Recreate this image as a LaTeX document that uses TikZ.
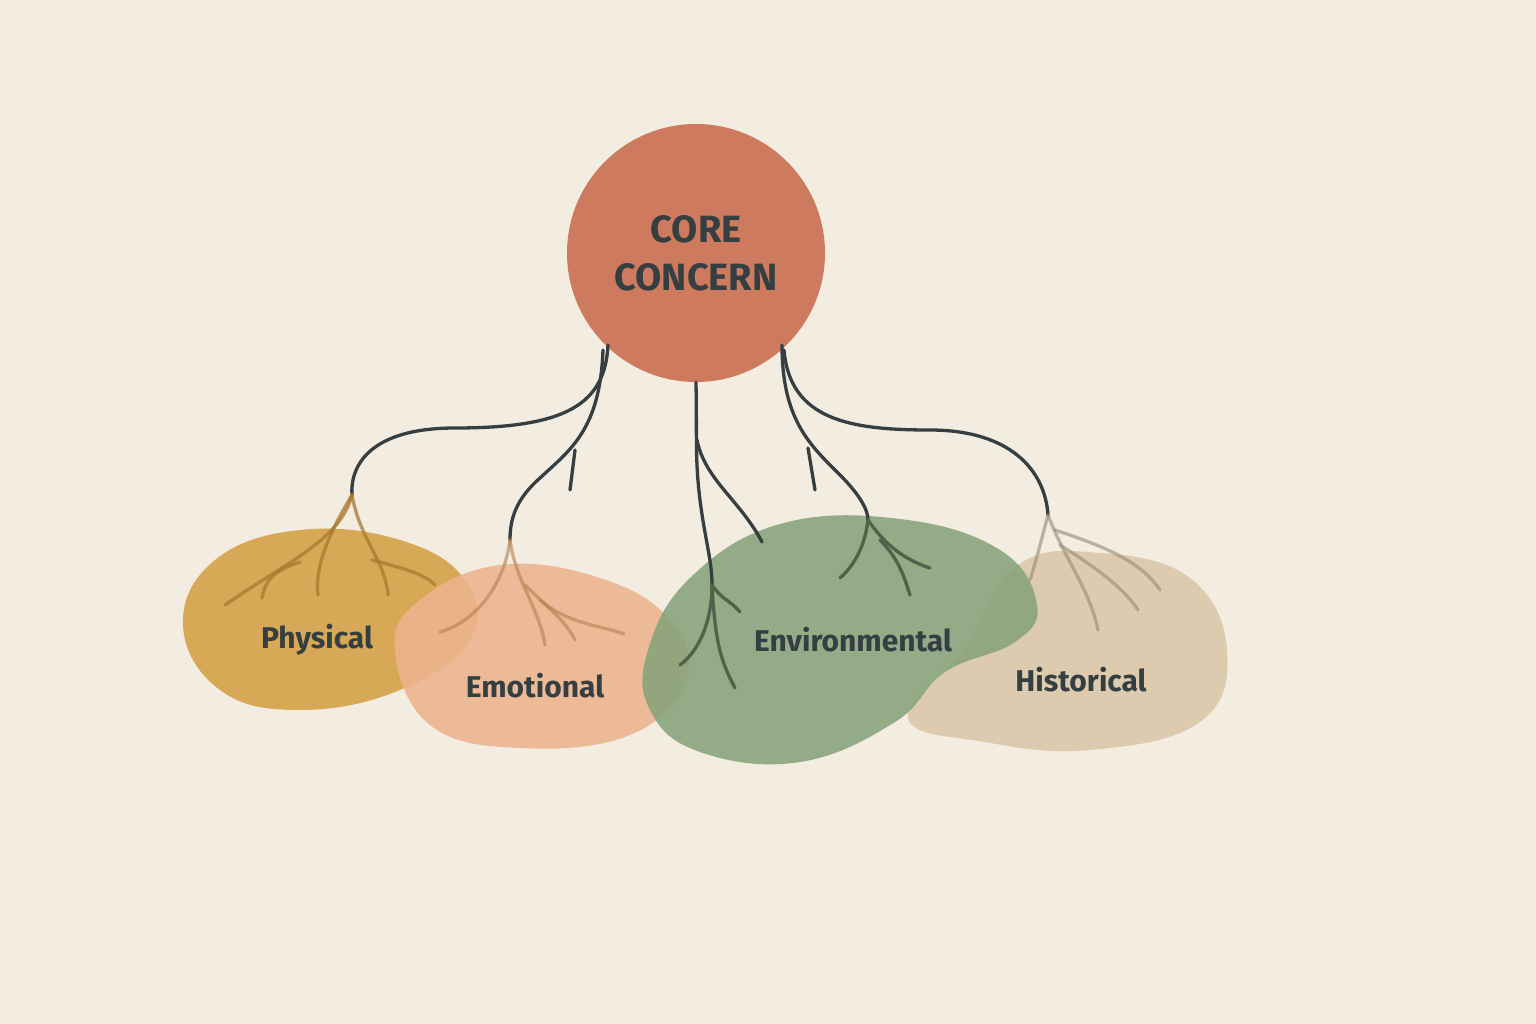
\documentclass[tikz,border=0pt]{standalone}
\usepackage{fontspec}
\setmainfont{Fira Sans}
\definecolor{bg}{HTML}{F3ECE0}
\definecolor{core}{HTML}{CD7A5E}
\definecolor{ink}{HTML}{353E40}
\definecolor{phys}{HTML}{D4A043}
\definecolor{emo}{HTML}{EDB48E}
\definecolor{env}{HTML}{86A37A}
\definecolor{hist}{HTML}{D9C7A8}
\tikzset{
  conn/.style={draw=ink,line width=3.3pt,line cap=round},
  blob/.style={fill opacity=0.88,draw=none},
  lbl/.style={text=ink,font=\fontsize{30}{34}\selectfont\bfseries},
  root/.style={line width=3.3pt,line cap=round}
}
\begin{document}
\begin{tikzpicture}[x=1pt,y=-1pt]
\fill[bg] (0,0) rectangle (1536,1024);
\useasboundingbox (0,0) rectangle (1536,1024);
% blobs
\fill[blob,hist] plot[smooth cycle,tension=0.7] coordinates{(908,718) (965,648) (1018,565) (1100,553) (1190,578) (1227,650) (1200,722) (1090,750) (985,742)};
\fill[blob,phys] plot[smooth cycle,tension=0.7] coordinates{(183,625) (215,560) (300,530) (400,540) (465,580) (470,640) (400,690) (300,710) (220,690)};
\fill[blob,emo] plot[smooth cycle,tension=0.7] coordinates{(395,650) (420,600) (500,565) (600,578) (670,620) (686,680) (630,735) (520,748) (430,725)};
\fill[blob,env] plot[smooth cycle,tension=0.7] coordinates{(648,650) (690,578) (780,524) (900,519) (1000,550) (1037,605) (1015,642) (945,672) (895,722) (800,762) (700,752) (650,710)};
% core
\node[circle,fill=core,minimum size=258pt,inner sep=0pt,align=center,text=ink,font=\fontsize{38}{48}\selectfont\bfseries] (core) at (696,253) {CORE\\CONCERN};
% connectors
\coordinate (p) at (352,495);
\coordinate (e) at (510,540);
\coordinate (c) at (712,585);
\coordinate (n) at (868,520);
\coordinate (h) at (1048,515);
\draw[conn] (608,345) .. controls (605,405) and (565,428) .. (455,428) .. controls (365,428) and (350,470) .. (p);
\draw[conn] (603,350) .. controls (600,430) and (570,450) .. (540,478) .. controls (515,500) and (510,520) .. (e);
\draw[conn] (575,450) -- (570,490);
\draw[conn] (core.south) .. controls (697,440) and (695,460) .. (700,500) .. controls (705,540) and (712,560) .. (c);
\draw[conn] (697,440) .. controls (705,480) and (740,500) .. (762,542);
\draw[conn] (782,345) .. controls (782,420) and (810,445) .. (840,475) .. controls (860,495) and (868,510) .. (n);
\draw[conn] (808,448) -- (815,490);
\draw[conn] (784,350) .. controls (790,420) and (850,430) .. (930,430) .. controls (1010,430) and (1045,470) .. (h);
% roots
\begin{scope}[root,draw=phys!75!black!90!orange,opacity=0.75]
\draw (p) .. controls (340,540) and (290,560) .. (225,605);
\draw (300,562) .. controls (275,570) and (265,580) .. (262,598);
\draw (p) .. controls (325,540) and (315,570) .. (318,595);
\draw (p) .. controls (360,540) and (385,560) .. (388,595);
\draw (372,560) .. controls (410,570) and (425,575) .. (435,585);
\end{scope}
\begin{scope}[root,draw=emo!70!black!80!orange,opacity=0.6]
\draw (e) .. controls (505,580) and (480,620) .. (440,632);
\draw (e) .. controls (515,580) and (540,610) .. (545,645);
\draw (525,585) .. controls (550,610) and (565,620) .. (575,640);
\draw (540,600) .. controls (570,625) and (600,625) .. (624,634);
\end{scope}
\begin{scope}[root,draw=env!60!black]
\draw (c) .. controls (715,640) and (720,660) .. (735,688);
\draw (c) .. controls (712,620) and (700,650) .. (680,665);
\draw (c) .. controls (722,600) and (730,600) .. (740,612);
\draw (n) .. controls (865,545) and (855,565) .. (840,578);
\draw (n) .. controls (885,545) and (905,560) .. (930,568);
\draw (880,540) .. controls (900,560) and (905,580) .. (910,595);
\end{scope}
\begin{scope}[root,draw=hist!70!black,opacity=0.6]
\draw (h) .. controls (1040,545) and (1035,565) .. (1030,580);
\draw (h) .. controls (1065,560) and (1090,590) .. (1098,630);
\draw (1060,545) .. controls (1100,570) and (1125,590) .. (1138,610);
\draw (1055,530) .. controls (1100,545) and (1140,560) .. (1160,590);
\end{scope}
% labels
\node[lbl] (lp) at (317,640) {Physical};
\node[lbl] (le) at (535,686) {Emotional};
\node[lbl] (ln) at (853,640) {Environmental};
\node[lbl] (lh) at (1081,680) {Historical};
\end{tikzpicture}
\end{document}
